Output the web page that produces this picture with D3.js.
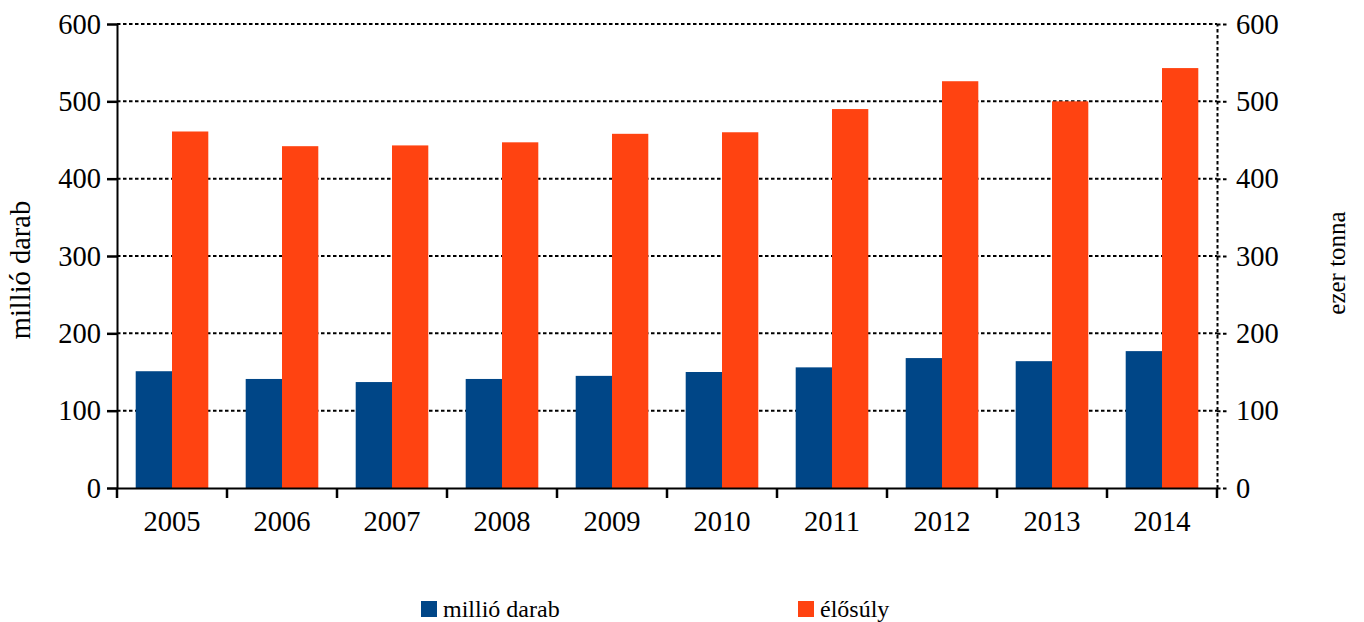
<!DOCTYPE html>
<html>
<head>
<meta charset="utf-8">
<script src="https://cdn.jsdelivr.net/npm/d3@7"></script>
<style>
    body { margin: 0; background: #fff; }
    svg { display: block; font-family: "Liberation Serif", "DejaVu Serif", serif; }
</style>
</head>
<body>
<svg id="chart" width="1364" height="622"></svg>
<script>
// Data
const years = ['2005', '2006', '2007', '2008', '2009', '2010', '2011', '2012', '2013', '2014'];
const millioDarab = [151, 141, 137, 141, 145, 150, 156, 168, 164, 177];
const elosuly = [461, 442, 443, 447, 458, 460, 490, 526, 500, 543];
const seriesNames = ['millió darab', 'élősúly'];
const seriesColors = ['#004687', '#ff4311'];
const yTicks = [0, 100, 200, 300, 400, 500, 600];

const FONT = '"Liberation Serif", "DejaVu Serif", serif';
const svg = d3.select('#chart');

// Margins
const margin = { top: 24, right: 147, bottom: 134, left: 117 };
const width = 1364 - margin.left - margin.right;
const height = 622 - margin.top - margin.bottom;

const g = svg.append('g')
    .attr('transform', `translate(${margin.left},${margin.top})`);

// Scales
const x = d3.scaleBand()
    .domain(years)
    .range([0, width]);

const xInner = d3.scaleBand()
    .domain(seriesNames)
    .range([x.bandwidth() * 0.17, x.bandwidth() * 0.83]);

const yLeft = d3.scaleLinear().domain([0, 600]).range([height, 0]);
const yRight = d3.scaleLinear().domain([0, 600]).range([height, 0]);

// Grid lines
g.append('g')
    .selectAll('line')
    .data(yTicks.filter(d => d > 0))
    .join('line')
    .attr('x1', 0)
    .attr('x2', width)
    .attr('y1', d => yLeft(d))
    .attr('y2', d => yLeft(d))
    .attr('stroke', '#000')
    .attr('stroke-width', 2)
    .attr('stroke-dasharray', '3.5,2.5');

// Bars
const rows = years.map((year, i) => ({ year, values: [millioDarab[i], elosuly[i]] }));

g.append('g')
    .selectAll('g')
    .data(rows)
    .join('g')
    .attr('transform', d => `translate(${x(d.year)},0)`)
    .selectAll('rect')
    .data(d => d.values.map((v, i) => ({ key: seriesNames[i], value: v, i })))
    .join('rect')
    .attr('x', d => xInner(d.key))
    .attr('width', xInner.bandwidth())
    .attr('y', d => (d.i === 0 ? yLeft : yRight)(d.value))
    .attr('height', d => height - (d.i === 0 ? yLeft : yRight)(d.value))
    .attr('fill', d => seriesColors[d.i]);

// Left axis
const leftAxis = g.append('g')
    .call(d3.axisLeft(yLeft).tickValues(yTicks).tickSize(10).tickPadding(6).tickSizeOuter(0))
    .attr('font-family', FONT);
leftAxis.select('.domain').attr('stroke-width', 2);
leftAxis.selectAll('.tick line').attr('stroke-width', 2.5);
leftAxis.selectAll('text').attr('font-size', 28.5).attr('fill', '#000');

// Right axis (dotted)
const rightAxis = g.append('g')
    .attr('transform', `translate(${width},0)`)
    .call(d3.axisRight(yRight).tickValues(yTicks).tickSize(11).tickPadding(8).tickSizeOuter(0))
    .attr('font-family', FONT);
rightAxis.select('.domain')
    .attr('stroke-width', 2)
    .attr('stroke-dasharray', '3.5,2.5');
rightAxis.selectAll('.tick line')
    .attr('stroke-width', 2)
    .attr('stroke-dasharray', '3.5,2.5');
rightAxis.selectAll('text').attr('font-size', 28.5).attr('fill', '#000');

// Bottom axis
const bottomAxis = g.append('g')
    .attr('transform', `translate(0,${height})`)
    .call(d3.axisBottom(x).tickSize(0).tickPadding(23).tickSizeOuter(0))
    .attr('font-family', FONT);
bottomAxis.select('.domain').attr('stroke-width', 2);
bottomAxis.selectAll('text').attr('font-size', 28.5).attr('fill', '#000');

// Category boundary ticks
g.append('g')
    .selectAll('line')
    .data(x.domain().map(d => x(d)).concat([width]))
    .join('line')
    .attr('x1', d => d)
    .attr('x2', d => d)
    .attr('y1', height)
    .attr('y2', height + 10)
    .attr('stroke', '#000')
    .attr('stroke-width', 2.5);

// Axis titles
svg.append('text')
    .attr('transform', 'translate(30,270) rotate(-90)')
    .attr('text-anchor', 'middle')
    .attr('font-size', 28.5)
    .text('millió darab');

svg.append('text')
    .attr('transform', 'translate(1345,263) rotate(-90)')
    .attr('text-anchor', 'middle')
    .attr('font-size', 25)
    .text('ezer tonna');

// Legend
const legendX = [421, 798];
const legend = svg.append('g')
    .selectAll('g')
    .data(seriesNames)
    .join('g')
    .attr('transform', (d, i) => `translate(${legendX[i]},601)`);

legend.append('rect')
    .attr('width', 16)
    .attr('height', 16)
    .attr('fill', (d, i) => seriesColors[i]);

legend.append('text')
    .attr('x', 22)
    .attr('y', 16)
    .attr('font-size', 24)
    .text(d => d);
</script>
</body>
</html>
